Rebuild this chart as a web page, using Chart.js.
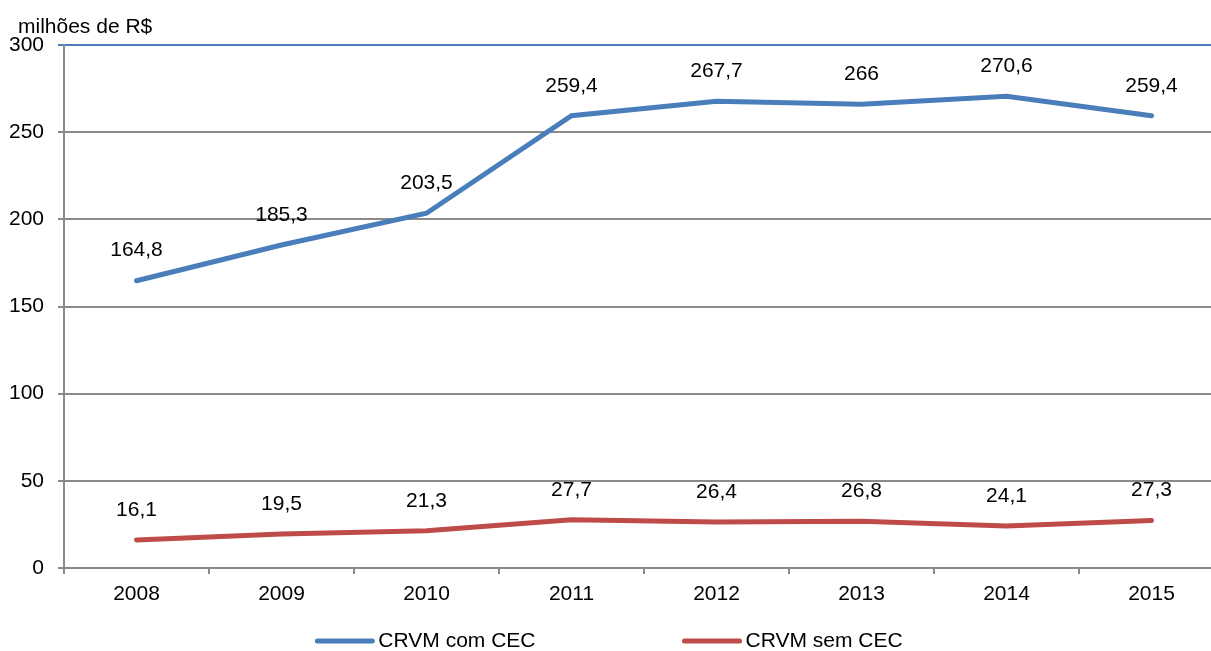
<!DOCTYPE html>
<html>
<head>
<meta charset="utf-8">
<script src="https://cdn.jsdelivr.net/npm/chart.js@4"></script>
<style>
	html, body { margin: 0; padding: 0; background: #fff; overflow: hidden; }
	#wrap { width: 1224px; height: 651px; }
</style>
</head>
<body>
<div id="wrap"><canvas id="chart" width="1224" height="651"></canvas></div>
<script>
const years = ["2008", "2009", "2010", "2011", "2012", "2013", "2014", "2015"];
const comCec = [164.8, 185.3, 203.5, 259.4, 267.7, 266, 270.6, 259.4];
const semCec = [16.1, 19.5, 21.3, 27.7, 26.4, 26.8, 24.1, 27.3];
const seriesNames = ["CRVM com CEC", "CRVM sem CEC"];
const yTicks = [0, 50, 100, 150, 200, 250, 300];
const unitLabel = "milhões de R$";

const BLUE = "#4A7EBB";
const RED = "#BE4B48";
const GRID = "#8A8A8A";
const FONT = "'Liberation Sans', Arial, sans-serif";

// value labels above points, unit text, and the bottom legend
const extras = {
	id: "extras",
	afterDatasetsDraw(chart) {
		const c = chart.ctx;
		c.save();
		c.fillStyle = "#000";
		c.font = "21px " + FONT;
		c.textAlign = "center";
		c.textBaseline = "middle";
		chart.data.datasets.forEach((ds, i) => {
			chart.getDatasetMeta(i).data.forEach((pt, j) => {
				c.fillText(String(ds.data[j]).replace(".", ","), pt.x, pt.y - 30);
			});
		});

		c.textAlign = "left";
		c.fillText(unitLabel, 18, 27);

		// legend
		const lineLen = 55, gap = 6, spacing = 149;
		const widths = chart.data.datasets.map(d => c.measureText(d.label).width);
		const total = widths.reduce((a, w) => a + lineLen + gap + w, 0) + spacing;
		let x = 610 - total / 2;
		const y = 641;
		chart.data.datasets.forEach((ds, i) => {
			c.strokeStyle = ds.borderColor;
			c.lineWidth = 5;
			c.lineCap = "round";
			c.beginPath();
			c.moveTo(x, y);
			c.lineTo(x + lineLen, y);
			c.stroke();
			c.fillText(ds.label, x + lineLen + gap, y);
			x += lineLen + gap + widths[i] + spacing;
		});
		c.restore();
	}
};

new Chart(document.getElementById("chart"), {
	type: "line",
	data: {
		labels: years,
		datasets: [
			{
				label: seriesNames[0],
				data: comCec,
				borderColor: BLUE,
				backgroundColor: BLUE,
				borderWidth: 5,
				borderCapStyle: "round",
				pointRadius: 0,
				tension: 0
			},
			{
				label: seriesNames[1],
				data: semCec,
				borderColor: RED,
				backgroundColor: RED,
				borderWidth: 5,
				borderCapStyle: "round",
				pointRadius: 0,
				tension: 0
			}
		]
	},
	options: {
		responsive: false,
		animation: false,
		layout: { padding: { top: 45, left: 0, right: 0, bottom: 0 } },
		plugins: {
			legend: { display: false },
			tooltip: { enabled: false }
		},
		scales: {
			x: {
				offset: true,
				grid: {
					display: true,
					offset: true,
					drawOnChartArea: false,
					tickLength: 6,
					color: GRID,
					lineWidth: 2
				},
				border: { color: GRID, width: 2 },
				ticks: { color: "#000", font: { family: FONT, size: 21 }, padding: 8 },
				afterFit: s => { s.height = 83; }
			},
			y: {
				min: 0,
				max: 300,
				afterBuildTicks: s => { s.ticks = yTicks.map(v => ({ value: v })); },
				grid: {
					color: ctx => (ctx.tick && ctx.tick.value === 300 ? BLUE : GRID),
					lineWidth: 2,
					tickLength: 6
				},
				border: { color: GRID, width: 2 },
				ticks: { color: "#000", font: { family: FONT, size: 21 }, padding: 14 },
				afterFit: s => { s.width = 64; }
			}
		}
	},
	plugins: [extras]
});
</script>
</body>
</html>
